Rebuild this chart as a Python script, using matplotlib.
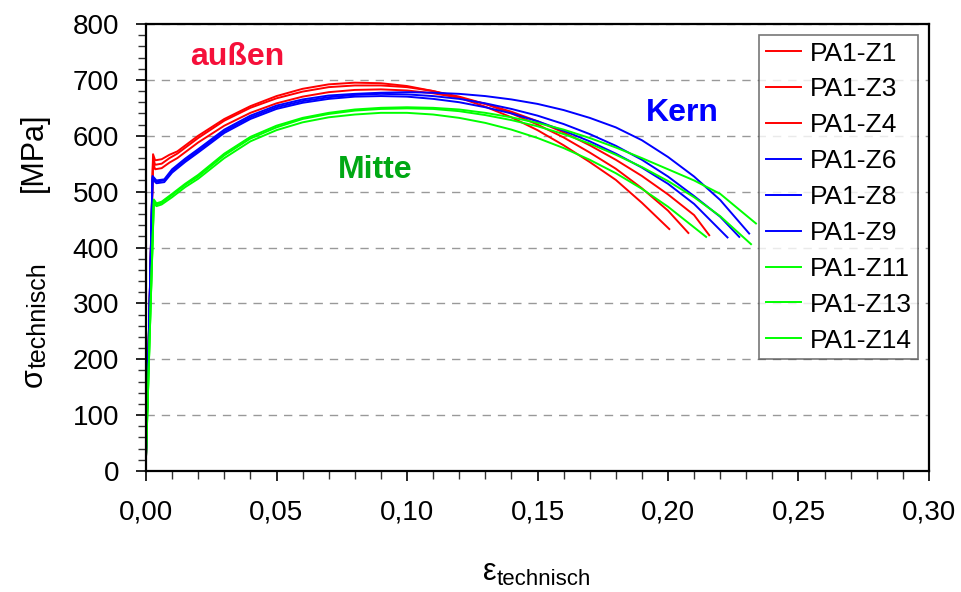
import matplotlib
matplotlib.use("Agg")
import matplotlib.pyplot as plt
from matplotlib.ticker import MultipleLocator, FixedLocator, FixedFormatter

plt.rcParams['font.family'] = ['Liberation Sans', 'DejaVu Sans']

# Dehnung / Spannung
eps_z1 = [0, 0.0027, 0.0035, 0.006, 0.009, 0.012, 0.02, 0.03, 0.04, 0.05, 0.06, 0.07, 0.08, 0.09,
          0.10, 0.11, 0.12, 0.13, 0.14, 0.15, 0.16, 0.17, 0.18, 0.19, 0.2005]
sig_z1 = [25, 567, 556, 558, 566, 572, 600, 630, 653, 671, 684, 692, 695, 694,
          689, 680, 668, 652, 633, 610, 583, 553, 521, 480, 433]

eps_z3 = [0, 0.0027, 0.0035, 0.006, 0.009, 0.012, 0.02, 0.03, 0.04, 0.05, 0.06, 0.07, 0.08, 0.09,
          0.10, 0.11, 0.12, 0.13, 0.14, 0.15, 0.16, 0.17, 0.18, 0.19, 0.20, 0.2078]
sig_z3 = [25, 560, 548, 550, 560, 568, 596, 627, 650, 667, 679, 687, 690, 690,
          687, 680, 670, 657, 640, 620, 597, 570, 541, 506, 466, 426]

eps_z4 = [0, 0.0027, 0.0035, 0.006, 0.009, 0.012, 0.02, 0.03, 0.04, 0.05, 0.06, 0.07, 0.08, 0.09,
          0.10, 0.11, 0.12, 0.13, 0.14, 0.15, 0.16, 0.17, 0.18, 0.19, 0.20, 0.21, 0.2158]
sig_z4 = [25, 552, 540, 542, 552, 560, 588, 618, 641, 658, 670, 678, 682, 683,
          681, 676, 668, 657, 643, 626, 606, 583, 557, 528, 495, 458, 422]

eps_z6 = [0, 0.0025, 0.004, 0.007, 0.01, 0.015, 0.02, 0.03, 0.04, 0.05, 0.06, 0.07, 0.08, 0.09,
          0.10, 0.11, 0.12, 0.13, 0.14, 0.15, 0.16, 0.17, 0.18, 0.19, 0.20, 0.21, 0.2228]
sig_z6 = [25, 522, 515, 517, 534, 553, 570, 605, 630, 648, 659, 666, 670, 671,
          670, 666, 660, 651, 640, 626, 609, 590, 568, 543, 514, 478, 418]

eps_z8 = [0, 0.0025, 0.004, 0.007, 0.01, 0.015, 0.02, 0.03, 0.04, 0.05, 0.06, 0.07, 0.08, 0.09,
          0.10, 0.11, 0.12, 0.13, 0.14, 0.15, 0.16, 0.17, 0.18, 0.19, 0.20, 0.21, 0.22, 0.2273]
sig_z8 = [25, 525, 518, 520, 537, 556, 573, 608, 633, 651, 662, 669, 673, 675,
          674, 671, 666, 658, 648, 636, 621, 603, 582, 557, 527, 492, 455, 419]

eps_z9 = [0, 0.0025, 0.004, 0.007, 0.01, 0.015, 0.02, 0.03, 0.04, 0.05, 0.06, 0.07, 0.08, 0.09,
          0.10, 0.11, 0.12, 0.13, 0.14, 0.15, 0.16, 0.17, 0.18, 0.19, 0.20, 0.21, 0.22, 0.2311]
sig_z9 = [25, 528, 520, 522, 540, 559, 576, 611, 636, 654, 665, 672, 675, 677,
          678, 677, 675, 671, 665, 657, 646, 632, 615, 592, 562, 527, 485, 425]

eps_z11 = [0, 0.003, 0.004, 0.006, 0.01, 0.015, 0.02, 0.03, 0.04, 0.05, 0.06, 0.07, 0.08, 0.09,
           0.10, 0.11, 0.12, 0.13, 0.14, 0.15, 0.16, 0.17, 0.18, 0.19, 0.20, 0.2146]
sig_z11 = [25, 480, 474, 477, 490, 508, 523, 560, 590, 610, 624, 633, 638, 641,
           641, 638, 632, 623, 611, 596, 578, 557, 533, 505, 473, 419]

eps_z13 = [0, 0.003, 0.004, 0.006, 0.01, 0.015, 0.02, 0.03, 0.04, 0.05, 0.06, 0.07, 0.08, 0.09,
           0.10, 0.11, 0.12, 0.13, 0.14, 0.15, 0.16, 0.17, 0.18, 0.19, 0.20, 0.21, 0.22, 0.2318]
sig_z13 = [25, 484, 477, 480, 494, 512, 527, 565, 595, 615, 630, 639, 645, 648,
           649, 648, 644, 637, 628, 617, 603, 586, 566, 544, 519, 490, 456, 406]

eps_z14 = [0, 0.003, 0.004, 0.006, 0.01, 0.015, 0.02, 0.03, 0.04, 0.05, 0.06, 0.07, 0.08, 0.09,
           0.10, 0.11, 0.12, 0.13, 0.14, 0.15, 0.16, 0.17, 0.18, 0.19, 0.20, 0.21, 0.22, 0.2337]
sig_z14 = [25, 486, 479, 482, 496, 514, 530, 568, 598, 618, 632, 641, 647, 650,
           651, 650, 647, 641, 633, 623, 611, 596, 579, 560, 540, 520, 496, 443]

curves = [
    ("PA1-Z1", eps_z1, sig_z1, "#FF0000"),
    ("PA1-Z3", eps_z3, sig_z3, "#FF0000"),
    ("PA1-Z4", eps_z4, sig_z4, "#FF0000"),
    ("PA1-Z6", eps_z6, sig_z6, "#0000FF"),
    ("PA1-Z8", eps_z8, sig_z8, "#0000FF"),
    ("PA1-Z9", eps_z9, sig_z9, "#0000FF"),
    ("PA1-Z11", eps_z11, sig_z11, "#00FF00"),
    ("PA1-Z13", eps_z13, sig_z13, "#00FF00"),
    ("PA1-Z14", eps_z14, sig_z14, "#00FF00"),
]

x_ticks = [0.0, 0.05, 0.10, 0.15, 0.20, 0.25, 0.30]
x_ticklabels = ["0,00", "0,05", "0,10", "0,15", "0,20", "0,25", "0,30"]

W, H = 962, 592
fig = plt.figure(figsize=(W / 100, H / 100), dpi=100)
ax = fig.add_axes([146 / W, 1 - 471 / H, (929 - 146) / W, (471 - 24) / H])

for name, e, s, c in curves:
    ax.plot(e, s, color=c, lw=1.4, label=name)

ax.set_xlim(0, 0.30)
ax.set_ylim(0, 800)
ax.xaxis.set_major_locator(FixedLocator(x_ticks))
ax.xaxis.set_major_formatter(FixedFormatter(x_ticklabels))
ax.xaxis.set_minor_locator(MultipleLocator(0.01))
ax.yaxis.set_major_locator(MultipleLocator(100))
ax.yaxis.set_minor_locator(MultipleLocator(20))
ax.tick_params(which='major', length=7.5, width=1.2, labelsize=20, direction='out', color='black')
ax.tick_params(which='minor', length=6, width=1, direction='out', color='#333333')
ax.tick_params(axis='x', which='major', pad=13)
ax.tick_params(axis='y', which='major', pad=12)
for sp in ax.spines.values():
    sp.set_linewidth(1.6)
    sp.set_color('black')
ax.grid(axis='y', which='major', color='#999999', ls=(0, (6, 5)), lw=1)

# Achsentitel: Formelzeichen + tiefgestellter Index als eigene Texte
fig.text(483 / W, 1 - 580 / H, 'ε', fontsize=22, ha='left', va='baseline')
fig.text(497 / W, 1 - 585 / H, 'technisch', fontsize=16, ha='left', va='baseline')
fig.text(42 / W, 1 - 387 / H, 'σ', fontsize=22,
         rotation=90, rotation_mode='anchor', ha='left', va='baseline')
fig.text(46 / W, 1 - 368 / H, 'technisch', fontsize=18,
         rotation=90, rotation_mode='anchor', ha='left', va='baseline')
fig.text(42 / W, 1 - 192 / H, '[MPa]', fontsize=22,
         rotation=90, rotation_mode='anchor', ha='left', va='baseline')

ax.text(0.0350, 727, "außen", color="#F5103A", fontsize=23, fontweight='bold', ha='center', va='baseline')
ax.text(0.2053, 627, "Kern", color="#0000FF", fontsize=23, fontweight='bold', ha='center', va='baseline')
ax.text(0.0880, 524, "Mitte", color="#00A814", fontsize=23, fontweight='bold', ha='center', va='baseline')

leg = ax.legend(loc='upper right', bbox_to_anchor=(918 / W, 1 - 35 / H),
                bbox_transform=fig.transFigure, borderaxespad=0, fontsize=19,
                frameon=True, fancybox=False, handlelength=1.35, labelspacing=0.45,
                borderpad=0.25, handletextpad=0.3)
leg.get_frame().set_edgecolor('#555555')
leg.get_frame().set_linewidth(1.2)

fig.savefig("out.png", dpi=100)
